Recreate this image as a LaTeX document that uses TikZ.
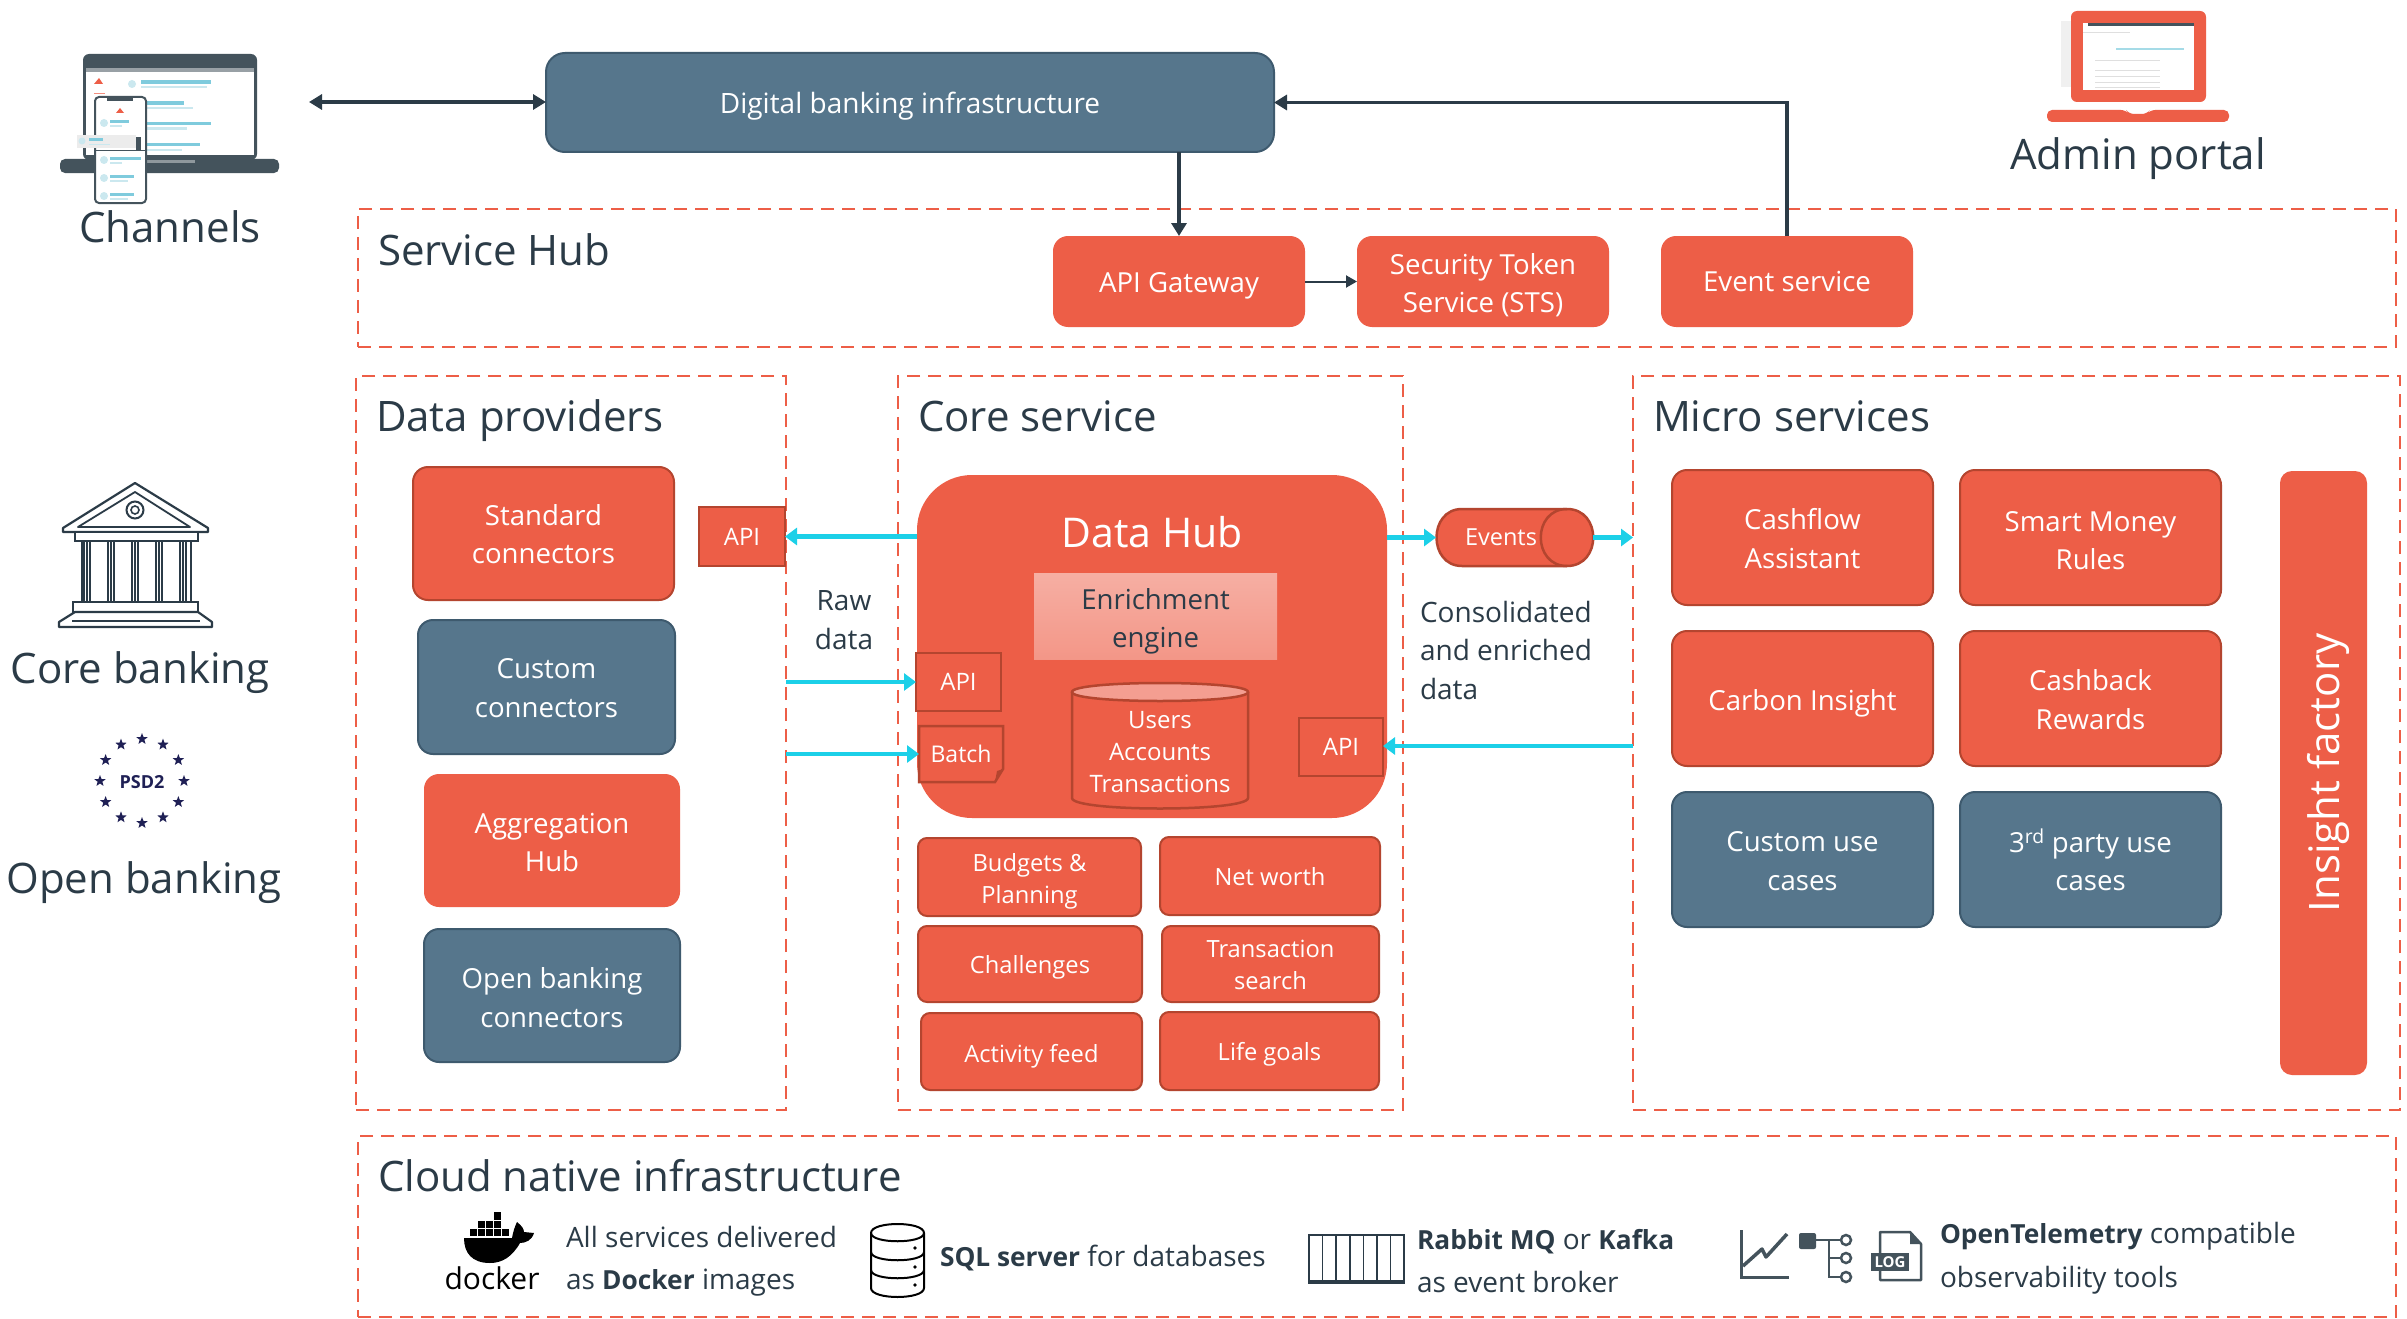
\documentclass[tikz,border=0pt]{standalone}
\usepackage{fontspec}
\setmainfont{Open Sans}
\usetikzlibrary{arrows.meta,shapes.geometric}
\definecolor{org}{HTML}{ED5E47}
\definecolor{orgd}{HTML}{B4452F}
\definecolor{blu}{HTML}{56768C}
\definecolor{blud}{HTML}{3E5A6E}
\definecolor{ink}{HTML}{2B3B47}
\definecolor{cyn}{HTML}{1CD0E8}
\definecolor{lap}{HTML}{44535C}
\definecolor{bar}{HTML}{7FCBDD}
\definecolor{barl}{HTML}{CBE8EF}
\definecolor{navy}{HTML}{1F2055}
\newcommand\fs[2]{\fontsize{#1pt}{#2pt}\selectfont}
\newcommand\bx[7]{\node[#1,minimum width={(#5-#3)*1pt},minimum height={(#6-#4)*1pt}] (#2) at ({(#3+#5)/2},{(#4+#6)/2}) {#7};}
\newcommand\dn[2]{\raisebox{-#1pt}[\height][\depth]{\begin{tabular}{@{}c@{}}#2\end{tabular}}}
\newcommand\bb[1]{{\fontsize{26.3pt}{36pt}\selectfont\bfseries #1}}
\tikzset{
 x=1pt,y=-1pt,
 bs/.style={inner sep=0pt,outer sep=0pt,align=center,text=white},
 obox/.style={bs,rounded corners=15pt,fill=org,draw=orgd,line width=2pt,font=\fs{27.6}{38.5}},
 bbox/.style={bs,rounded corners=15pt,fill=blu,draw=blud,line width=2pt,font=\fs{27.6}{38.5}},
 nbox/.style={obox,draw=none},
 sbox/.style={bs,rounded corners=9pt,fill=org,draw=orgd,line width=2pt,font=\fs{23.7}{32}},
 tagbox/.style={bs,fill=org,draw=orgd,line width=2.5pt,font=\fs{24}{28}},
 zone/.style={draw=org,line width=2.2pt,dash pattern=on 13pt off 8pt,inner sep=0pt,outer sep=0pt},
 hdr/.style={inner sep=0pt,outer sep=0pt,anchor=base west,text=ink,font=\fs{42}{50}},
 lab/.style={inner sep=0pt,outer sep=0pt,text=ink,font=\fs{28}{38.5}},
 captxt/.style={inner sep=0pt,outer sep=0pt,anchor=base west,text=ink,font=\fs{28}{36}},
 darr/.style={draw=ink,line width=3.2pt,-{Triangle[length=13pt,width=15pt]}},
 dbl/.style={draw=ink,line width=3.2pt,{Triangle[length=13pt,width=15pt]}-{Triangle[length=13pt,width=15pt]}},
 carr/.style={draw=cyn,line width=4.2pt,-{Triangle[length=12pt,width=17pt]}},
 ic/.style={draw=ink,line width=2.2pt,fill=white},
}
\begin{document}
\begin{tikzpicture}
\useasboundingbox (0,0) rectangle (2407,1319);
\fill[white] (0,0) rectangle (2407,1319);
% zones
\bx{zone}{zsh}{358}{209}{2396}{347}{}
\bx{zone}{zdp}{356}{376}{786}{1110}{}
\bx{zone}{zcs}{898}{376}{1403}{1110}{}
\bx{zone}{zms}{1633}{376}{2400}{1110}{}
\bx{zone}{zcn}{358}{1136}{2396}{1317}{}
\node[hdr] (hsh) at (378,265) {Service Hub};
\node[hdr] (hdp) at (376,431) {Data providers};
\node[hdr] (hcs) at (918,431) {Core service};
\node[hdr] (hms) at (1653,431) {Micro services};
\node[hdr] (hcn) at (378,1191) {Cloud native infrastructure};
% channels laptop icon
\fill[lap,rounded corners=6pt] (83,54) rectangle (257,160);
\fill[white] (86,68) rectangle (254,155);
\fill[lap!55] (86,68) rectangle (254,72);
\fill[lap,rounded corners=5pt] (60,159) -- (279,159) -- (279,173) -- (60,173) -- cycle;
\fill[lap!60] (146,160) rectangle (195,163);
\fill[org] (94,84) -- (99,78) -- (103,84) -- cycle;
\fill[org!70] (94,93) rectangle (105,94.5);
\fill[barl] (132,84) circle (4);
\fill[bar] (141,80.5) rectangle (211,84); \fill[barl] (141,86) rectangle (207,88);
\fill[bar] (146,101) rectangle (184,105); \fill[barl] (146,107) rectangle (193,109);
\fill[bar] (146,122) rectangle (211,125); \fill[barl] (146,127) rectangle (187,130);
\fill[bar] (146,143) rectangle (200,146); \fill[barl] (146,149) rectangle (182,151);
\draw[lap,line width=2pt,fill=white,rounded corners=4pt] (95,97) rectangle (146,203);
\fill[lap] (107,97) rectangle (133,101);
\fill[org] (116,113) -- (120,108) -- (124,113) -- cycle;
\fill[barl] (104,123) circle (4); \fill[bar] (110,120) rectangle (129,123); \fill[barl] (110,125) rectangle (122,127);
\fill[gray!15] (77,135) rectangle (136,148);
\fill[barl] (82,141) circle (3.5); \fill[bar] (89,138) rectangle (103,141); \fill[barl] (89,144) rectangle (110,145);
\fill[lap] (96,150) rectangle (145,151.5); \fill[lap] (136,137) rectangle (141,150);
\fill[barl] (104,160) circle (4); \fill[bar] (110,157) rectangle (141,160); \fill[barl] (110,162) rectangle (122,164);
\fill[barl] (104,178) circle (4); \fill[bar] (110,175) rectangle (134,178); \fill[barl] (110,180) rectangle (128,182);
\fill[barl] (104,196) circle (4); \fill[bar] (110,193) rectangle (134,196); \fill[barl] (110,198) rectangle (128,200);
\node[lab,font=\fs{42}{50},anchor=base] (chan) at (170,242) {Channels};
\coordinate (chanend) at (309,102);
% admin portal icon
\fill[gray!12] (2061,21) rectangle (2194,87);
\fill[org,rounded corners=6pt] (2071,11) -- (2206,11) -- (2206,102) -- (2071,102) -- cycle;
\fill[white] (2083,23) rectangle (2194,90);
\fill[lap] (2088,23) rectangle (2194,26);
\fill[gray!25] (2083,32) rectangle (2130,33.5);
\fill[bar!70] (2116,48) rectangle (2184,50);
\foreach \yy in {60,70,76,82,87}{\fill[gray!25] (2095,\yy) rectangle (2160,\yy+1.2);}
\fill[org,rounded corners=5pt] (2047,110) -- (2126,110) -- (2129,114) -- (2147,114) -- (2150,110) -- (2229,110) -- (2229,122) -- (2047,122) -- cycle;
\node[lab,font=\fs{42}{50},anchor=base] (admin) at (2138,170) {Admin portal};
% bank icon
\draw[ic,line join=round] (135,483) -- (208,528) -- (208,532) -- (63,532) -- (63,528) -- cycle;
\draw[ink,line width=1.8pt,line join=round] (135,492) -- (190,527) -- (78,527) -- cycle;
\draw[ink,line width=2pt] (135,510) circle (8.5);
\draw[ink,line width=1.6pt] (135,510) circle (4);
\draw[ic] (75,532) rectangle (198,541);
\draw[ic] (82,541) rectangle (191,602);
\foreach \cx in {87,111,135,159,183}{\draw[ink,line width=1.8pt,fill=white] (\cx-3.2,541) rectangle (\cx+3.2,602);\draw[ink,line width=1.4pt] (\cx,541) -- (\cx,602);}
\draw[ic] (73,602) rectangle (198,612);
\draw[ic,line join=round] (75,612) -- (198,612) -- (212,622) -- (212,627) -- (59,627) -- (59,622) -- cycle;
\draw[ink,line width=1.6pt] (72,621) -- (200,621);
\node[lab,font=\fs{42}{50},anchor=base] (core) at (140,683) {Core banking};
% PSD2
\foreach \i in {0,...,11}{\node[star,star points=5,star point ratio=2.4,fill=navy,inner sep=0pt,minimum size=12pt] (st\i) at ({142+42*cos(\i*30)},{781+42*sin(\i*30)}) {};}
\node[inner sep=0pt,text=navy,font=\fs{18}{20}\bfseries] (psd) at (142,782) {PSD2};
\node[lab,font=\fs{42}{50},anchor=base] (open) at (144,893) {Open banking};
% main boxes
\bx{bbox,rounded corners=19pt,font=\fs{28}{35}}{dbi}{546}{53}{1274}{152}{\dn{4.5}{Digital banking infrastructure}}
\bx{nbox}{gw}{1053}{236}{1305}{327}{\dn{3.5}{API Gateway}}
\bx{nbox}{sts}{1357}{236}{1609}{327}{\dn{4.5}{Security Token\\Service (STS)}}
\bx{nbox}{ev}{1661}{236}{1913}{327}{\dn{2.5}{Event service}}
\bx{obox}{std}{413}{467}{674}{600}{\dn{3.5}{Standard\\connectors}}
\bx{bbox}{cus}{418}{620}{675}{754}{\dn{3.5}{Custom\\connectors}}
\bx{nbox}{agg}{424}{774}{680}{907}{\dn{4.5}{Aggregation\\Hub}}
\bx{bbox}{opn}{424}{929}{680}{1062}{\dn{5}{Open banking\\connectors}}
\bx{tagbox}{apil}{699}{507}{785}{566}{API}
% data hub
\bx{nbox,rounded corners=55pt}{hub}{917}{475}{1387}{818}{}
\node[inner sep=0pt,text=white,font=\fs{41}{50}] (hubt) at (1152,532) {Data Hub};
\bx{bs,top color=org!50!white,bottom color=org!65!white,text=ink,font=\fs{27.6}{38.5}}{enr}{1034}{573}{1277}{659}{\dn{5}{Enrichment\\engine}}
% cylinder
\draw[orgd,line width=2.5pt,fill=org] (1072,692) -- (1072,798) .. controls (1072,812) and (1248,812) .. (1248,798) -- (1248,692);
\draw[orgd,line width=2.5pt,fill=org!60!white] (1072,692) .. controls (1072,680) and (1248,680) .. (1248,692) .. controls (1248,704) and (1072,704) .. (1072,692) -- cycle;
\node[bs,font=\fs{24}{32}] (db) at (1160,752) {Users\\Accounts\\Transactions};
\bx{tagbox}{apia}{916}{653}{1001}{711}{API}
\bx{tagbox}{apir}{1299}{718}{1383}{776}{API}
\draw[orgd,line width=2.5pt,fill=org] (919,726) -- (1003,726) -- (1003,769) -- (995,782) -- (919,782) -- cycle;
\fill[orgd] (995,782) -- (997,771) -- (1003,769) -- cycle;
\node[bs,font=\fs{23}{28},minimum width=84pt,minimum height=56pt] (bat) at (961,754) {Batch};
% events
\draw[orgd,line width=2.5pt,fill=org] (1462,509) -- (1567,509) .. controls (1602,509) and (1602,566) .. (1567,566) -- (1462,566) .. controls (1428,566) and (1428,509) .. (1462,509) -- cycle;
\draw[orgd,line width=2.5pt] (1567,509) .. controls (1532,509) and (1532,566) .. (1567,566);
\node[bs,minimum width=157pt,minimum height=57pt] (evt) at (1514.5,537.5) {};
\node[bs,font=\fs{23.5}{28}] (evtl) at (1501,537) {Events};
% small boxes
\bx{sbox}{bud}{918}{838}{1141}{916}{\dn{4}{Budgets \&\\Planning}}
\bx{sbox}{net}{1160}{837}{1380}{915}{\dn{3.5}{Net worth}}
\bx{sbox}{cha}{918}{926}{1142}{1002}{\dn{3.5}{Challenges}}
\bx{sbox}{trs}{1162}{926}{1379}{1002}{\dn{3.5}{Transaction\\search}}
\bx{sbox}{act}{921}{1013}{1142}{1090}{\dn{4.5}{Activity feed}}
\bx{sbox}{lif}{1160}{1012}{1379}{1090}{\dn{3}{Life goals}}
% micro services
\bx{obox}{m1}{1672}{470}{1933}{605}{\dn{4}{Cashflow\\Assistant}}
\bx{obox}{m2}{1960}{470}{2221}{605}{\dn{5.5}{Smart Money\\Rules}}
\bx{obox}{m3}{1672}{631}{1933}{766}{\dn{4.5}{Carbon Insight}}
\bx{obox}{m4}{1960}{631}{2221}{766}{\dn{4}{Cashback\\Rewards}}
\bx{bbox}{m5}{1672}{792}{1933}{927}{\dn{4}{Custom use\\cases}}
\bx{bbox}{m6}{1960}{792}{2221}{927}{\dn{4.5}{3\textsuperscript{rd} party use\\cases}}
\node[nbox,rounded corners=12pt,minimum width=87pt,minimum height=604pt] (ins) at (2323.5,773) {};
\node[inner sep=0pt,text=white,font=\fs{42}{50},rotate=90] (inst) at (2328,773) {Insight factory};
% labels
\node[lab,align=center] (raw) at (844,620) {Raw\\data};
\node[lab,align=left,anchor=north west] (cons) at (1420,601) {Consolidated\\and enriched\\data};
% connectors
\coordinate (dpa) at (786,682);
\coordinate (dpb) at (786,754);
\coordinate (msa) at (1633,538);
\coordinate (msb) at (1633,746);
\draw[dbl] (chanend) -- (chanend -| dbi.west);
\draw[darr] (dbi.south -| gw.north) -- (gw.north);
\draw[darr,line width=2pt,-{Triangle[length=11pt,width=12pt]}] (gw.east) -- (sts.west);
\draw[darr] (ev.north) -- (ev.north |- dbi.east) -- (dbi.east);
\draw[carr] (hub.west |- apil.east) -- (apil.east);
\draw[carr] (dpa) -- (dpa -| apia.west);
\draw[carr] (dpb) -- (dpb -| bat.west);
\draw[carr] (hub.east |- evt.west) -- (evt.west);
\draw[carr] (evt.east) -- (evt.east -| msa);
\draw[carr] (msb) -- (msb -| apir.east);
% bottom docker icon
\fill[black] (464,1238) -- (512,1238) .. controls (513,1232) and (515,1226) .. (517,1222) .. controls (522,1226) and (524,1229) .. (524,1232) -- (534,1233) .. controls (532,1240) and (526,1243) .. (520,1243) .. controls (512,1257) and (502,1263) .. (490,1263) .. controls (472,1263) and (464,1253) .. (464,1238) -- cycle;
\foreach \bxx in {470,478,486,494,502}{\fill (\bxx,1229) rectangle (\bxx+6.5,1236);}
\foreach \bxx in {478,486,494}{\fill (\bxx,1221) rectangle (\bxx+6.5,1228);}
\fill (494,1212) rectangle (500.5,1220);
\node[inner sep=0pt,anchor=base,text=black,font=\fs{30}{30}] (dock) at (492,1289) {docker};
\node[captxt] (t1a) at (566,1247) {All services delivered};
\node[captxt] (t1b) at (566,1289) {as \bb{Docker} images};
% sql icon
\draw[black,line width=2pt,fill=white] (871,1233) .. controls (871,1221) and (924,1221) .. (924,1233) -- (924,1288) .. controls (924,1300) and (871,1300) .. (871,1288) -- cycle;
\draw[black,line width=2pt] (871,1233) .. controls (871,1244) and (924,1244) .. (924,1233);
\draw[black,line width=2pt] (871,1252) .. controls (871,1263) and (924,1263) .. (924,1252);
\draw[black,line width=2pt] (871,1270) .. controls (871,1281) and (924,1281) .. (924,1270);
\fill (915,1248) circle (1.8); \fill (915,1267) circle (1.8); \fill (915,1285) circle (1.8);
\node[captxt] (t2) at (940,1266) {\bb{SQL server} for databases};
% broker icon
\draw[ink,line width=2.5pt] (1309,1282) -- (1309,1235) -- (1404,1235) -- (1404,1282);
\foreach \vx in {1322.5,1336,1350,1363.5,1377,1390.5}{\draw[ink,line width=1.8pt] (\vx,1235) -- (\vx,1282);}
\draw[ink,line width=3.5pt] (1308,1282) -- (1405,1282);
\node[captxt] (t3a) at (1417,1249) {\bb{Rabbit MQ} or \bb{Kafka}};
\node[captxt] (t3b) at (1417,1292) {as event broker};
% observability icons
\draw[lap,line width=3pt] (1741,1230) -- (1741,1277.5) -- (1789,1277.5);
\draw[lap,line width=3.5pt,line join=round] (1743,1266) -- (1762,1249) -- (1766,1257) -- (1787,1234);
\fill[lap,rounded corners=2pt] (1799,1233) rectangle (1816,1249);
\draw[lap,line width=2pt] (1816,1240) -- (1841,1240);
\draw[lap,line width=2pt] (1829,1240) -- (1829,1277) -- (1841,1277) (1829,1258) -- (1841,1258);
\foreach \ny in {1240,1258,1277}{\draw[lap,line width=2.5pt,fill=white] (1846,\ny) circle (5);}
\draw[lap,line width=2.5pt,fill=white,line join=round] (1880,1232) -- (1910,1232) -- (1921,1244) -- (1921,1280) -- (1880,1280) -- cycle;
\fill[lap] (1910,1232) -- (1921,1244) -- (1910,1244) -- cycle;
\node[bs,fill=lap,font=\fs{15}{16}\bfseries,minimum width=38pt,minimum height=18pt] (logt) at (1890,1262) {LOG};
\node[captxt] (t4a) at (1940,1243) {\bb{OpenTelemetry} compatible};
\node[captxt] (t4b) at (1940,1287) {observability tools};
\end{tikzpicture}
\end{document}
